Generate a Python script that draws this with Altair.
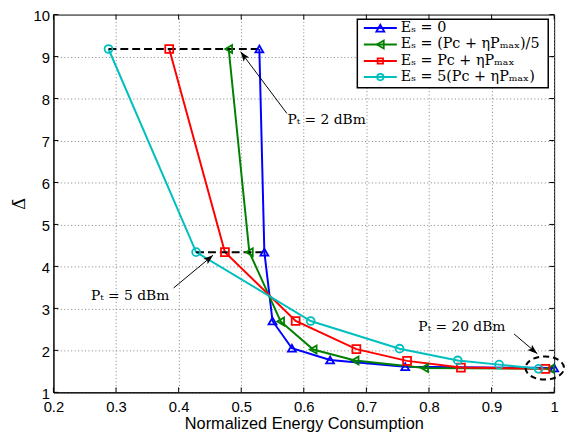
import math
import altair as alt
import pandas as pd

# ---------------- data ----------------
x_ticks = [0.2, 0.3, 0.4, 0.5, 0.6, 0.7, 0.8, 0.9, 1.0]
y_ticks = [1, 2, 3, 4, 5, 6, 7, 8, 9, 10]

series_labels = ["Eₛ = 0", "Eₛ = (Pc + ηPₘₐₓ)/5", "Eₛ = Pc + ηPₘₐₓ", "Eₛ = 5(Pc + ηPₘₐₓ)"]

es0_x = [0.529, 0.537, 0.550, 0.581, 0.642, 0.762, 1.000]
es0_y = [9.18, 4.34, 2.70, 2.05, 1.77, 1.61, 1.58]
es_fifth_x = [0.480, 0.513, 0.563, 0.615, 0.682, 0.793, 0.994]
es_fifth_y = [9.18, 4.34, 2.69, 2.02, 1.76, 1.58, 1.56]
es_one_x = [0.385, 0.474, 0.587, 0.684, 0.765, 0.851, 0.986]
es_one_y = [9.18, 4.34, 2.70, 2.03, 1.75, 1.59, 1.56]
es_five_x = [0.288, 0.428, 0.611, 0.753, 0.846, 0.912, 0.975]
es_five_y = [9.18, 4.34, 2.70, 2.04, 1.76, 1.66, 1.56]

annot_labels = ["Pₜ = 2 dBm", "Pₜ = 5 dBm", "Pₜ = 20 dBm"]
annot_text_x = [0.574, 0.260, 0.783]
annot_text_y = [7.39, 3.21, 2.45]
arrow_tail_x = [0.573, 0.392, 0.936]
arrow_tail_y = [7.645, 3.486, 2.39]
arrow_head_x = [0.499, 0.455, 0.973]
arrow_head_y = [9.116, 4.267, 1.921]
ellipse_x = [0.985]
ellipse_y = [1.58]

# ---------------- style / layout ----------------
colors = ["#0000ff", "#008000", "#ff0000", "#00bfbf"]
shapes = ["triangle-up", "triangle-left", "square", "circle"]
sizes = [64, 64, 30, 42]
W, H = 507, 382.5
X_DOM = [0.2, 1.0]
Y_DOM = [1, 10]
ARROW = "M0,0 L0.7,2 L0,1.55 L-0.7,2 Z"
ELLIPSE = "M-1,0 A1,0.6 0 1,0 1,0 A1,0.6 0 1,0 -1,0 Z"

xs_all = [es0_x, es_fifth_x, es_one_x, es_five_x]
ys_all = [es0_y, es_fifth_y, es_one_y, es_five_y]
rows = []
for lab, xv, yv in zip(series_labels, xs_all, ys_all):
    for i, (a, b) in enumerate(zip(xv, yv)):
        rows.append({"series": lab, "idx": i, "x": a, "y": b})
df = pd.DataFrame(rows)

# dashed connectors across series for the first two power levels
dash_rows = []
for i in (0, 1):
    vals = [xv[i] for xv in xs_all]
    dash_rows.append({"x": min(vals), "x2": max(vals), "y": es0_y[i]})
df_dash = pd.DataFrame(dash_rows)


def px(v):
    return (v - X_DOM[0]) / (X_DOM[1] - X_DOM[0]) * W


def py(v):
    return (Y_DOM[1] - v) / (Y_DOM[1] - Y_DOM[0]) * H


arr_rows = []
for tx, ty, hx, hy in zip(arrow_tail_x, arrow_tail_y, arrow_head_x, arrow_head_y):
    dx = px(hx) - px(tx)
    dy = py(hy) - py(ty)
    ang = (math.degrees(math.atan2(dx, -dy)) + 360) % 360
    arr_rows.append({"x": tx, "y": ty, "x2": hx, "y2": hy, "angle": ang})
df_arr = pd.DataFrame(arr_rows)
df_head = pd.DataFrame({"x": arrow_head_x, "y": arrow_head_y, "angle": df_arr["angle"]})
df_txt = pd.DataFrame({"x": annot_text_x, "y": annot_text_y, "label": annot_labels})
df_ell = pd.DataFrame({"x": ellipse_x, "y": ellipse_y})
df_xt = pd.DataFrame({"x": x_ticks})
df_yt = pd.DataFrame({"y": y_ticks})
one = pd.DataFrame({"a": [0]})

xs = alt.Scale(domain=X_DOM, nice=False, zero=False)
ys = alt.Scale(domain=Y_DOM, nice=False, zero=False)

x_axis = alt.Axis(values=x_ticks, format="~g", title="Normalized Energy Consumption",
                  grid=True, ticks=False, labelFlush=False, labelPadding=7,
                  labelFontSize=15, titleFontSize=16.5,
                  titleY=36.5, titleBaseline="alphabetic")
y_axis = alt.Axis(values=y_ticks, format="d", title="Δ̄", grid=True, ticks=False,
                  labelFlush=False, labelPadding=4, labelOffset=1, labelFontSize=15,
                  titleFont="DejaVu Serif", titleFontSize=17, titleAngle=270,
                  titleX=-34, titleY=H / 2, titleBaseline="middle", titleAlign="center")


def X(field="x"):
    return alt.X(f"{field}:Q", scale=xs, axis=x_axis, title="Normalized Energy Consumption")


def Y(field="y"):
    return alt.Y(f"{field}:Q", scale=ys, axis=y_axis, title="Δ̄")


color_enc = alt.Color("series:N", scale=alt.Scale(domain=series_labels, range=colors), legend=None)

lines = alt.Chart(df).mark_line(strokeWidth=2).encode(
    x=X(), y=Y(), color=color_enc, order=alt.Order("idx:Q"),
)

points = alt.Chart(df).mark_point(filled=False, strokeWidth=1.8, opacity=1).encode(
    x=X(), y=Y(),
    color=color_enc,
    shape=alt.Shape("series:N", scale=alt.Scale(domain=series_labels, range=shapes), legend=None),
    size=alt.Size("series:N", scale=alt.Scale(domain=series_labels, range=sizes), legend=None),
)

dashed = alt.Chart(df_dash).mark_rule(strokeDash=[8, 4], strokeWidth=2, color="black").encode(
    x=X(), x2="x2:Q", y=Y(),
)

ticks = [
    alt.Chart(df_xt).mark_rule(color="black").encode(x=X(), y=alt.value(H), y2=alt.value(H - 5)),
    alt.Chart(df_xt).mark_rule(color="black").encode(x=X(), y=alt.value(0), y2=alt.value(5)),
    alt.Chart(df_yt).mark_rule(color="black").encode(y=Y(), x=alt.value(0), x2=alt.value(5)),
    alt.Chart(df_yt).mark_rule(color="black").encode(y=Y(), x=alt.value(W), x2=alt.value(W - 5)),
]

ellipse = alt.Chart(df_ell).mark_point(shape=ELLIPSE, size=1521, filled=False, color="black",
                                       strokeWidth=2, strokeDash=[6, 4], opacity=1).encode(
    x=X(), y=Y())

arrow_lines = alt.Chart(df_arr).mark_rule(color="black", strokeWidth=1).encode(
    x=X(), y=Y(), x2="x2:Q", y2="y2:Q")
arrow_heads = alt.Chart(df_head).mark_point(shape=ARROW, size=100, filled=True, color="black",
                                            opacity=1, strokeWidth=0).encode(
    x=X(), y=Y(), angle=alt.Angle("angle:Q", scale=None))

texts = alt.Chart(df_txt).mark_text(align="left", baseline="alphabetic", font="DejaVu Serif",
                                    fontSize=14, color="black").encode(
    x=X(), y=Y(), text="label:N")

# legend (drawn by hand inside the plot)
leg_left, leg_right, leg_top, leg_bottom = 307.7, 501, 4.7, 74.0
row_y = [13.7, 30.3, 47.0, 63.3]
legend_layers = [
    alt.Chart(one).mark_rect(fill="white", stroke="black", strokeWidth=1.5).encode(
        x=alt.value(leg_left), x2=alt.value(leg_right), y=alt.value(leg_top), y2=alt.value(leg_bottom))
]
for lab, c, s, sz, ry in zip(series_labels, colors, shapes, sizes, row_y):
    legend_layers.append(alt.Chart(one).mark_rule(color=c, strokeWidth=2).encode(
        x=alt.value(314.3), x2=alt.value(347.7), y=alt.value(ry)))
    legend_layers.append(alt.Chart(one).mark_point(shape=s, size=sz, filled=False, color=c,
                                                   strokeWidth=1.8, opacity=1).encode(
        x=alt.value(331), y=alt.value(ry)))
    legend_layers.append(alt.Chart(one).mark_text(text=lab, align="left", baseline="middle",
                                                  font="DejaVu Serif", fontSize=14.5,
                                                  color="black").encode(
        x=alt.value(351.7), y=alt.value(ry)))

chart = alt.layer(
    lines, *ticks, dashed, points, ellipse, arrow_lines, arrow_heads, texts, *legend_layers
).properties(
    width=W, height=H,
    padding={"left": 46, "top": 4, "right": 13, "bottom": 38},
    autosize=alt.AutoSizeParams(type="none"),
    background="white",
).configure_view(
    stroke="black", strokeWidth=1
).configure_axis(
    gridColor="#808080", gridDash=[1, 2.5], gridWidth=1, gridOpacity=1,
    domainColor="black", domainWidth=1,
    labelColor="black", titleColor="black",
    labelFont="Liberation Sans",
    titleFont="Liberation Sans", titleFontWeight="normal",
)

chart.save("out.html", embed_options={"renderer": "svg", "actions": False})
